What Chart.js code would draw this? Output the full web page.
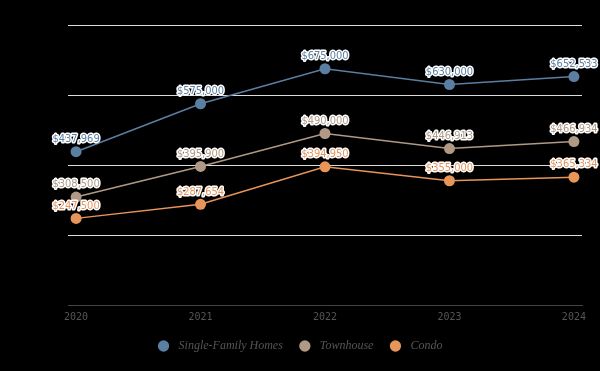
<!DOCTYPE html>
<html>
<head>
<meta charset="utf-8">
<script src="https://cdn.jsdelivr.net/npm/chart.js@4"></script>
<style>
  html, body { margin: 0; padding: 0; background: #000; }
  #wrap { width: 600px; height: 371px; }
</style>
</head>
<body>
<div id="wrap"><canvas id="priceChart"></canvas></div>
<script>
const years = ['2020', '2021', '2022', '2023', '2024'];
const singleFamily = [437969, 575000, 675000, 630000, 652533];
const townhouse = [308500, 395900, 490000, 446913, 466934];
const condo = [247500, 287654, 394950, 355000, 365334];

const colors = ['#5b7fa3', '#b09a86', '#e8955a'];

// value labels: coloured text with a white outline
const valueLabels = {
    id: 'valueLabels',
    afterDatasetsDraw(chart) {
        const ctx = chart.ctx;
        ctx.save();
        ctx.font = '11px "Liberation Sans Narrow", "DejaVu Sans Condensed", sans-serif';
        ctx.textAlign = 'center';
        ctx.textBaseline = 'bottom';
        ctx.lineJoin = 'round';
        chart.data.datasets.forEach((ds, i) => {
            chart.getDatasetMeta(i).data.forEach((pt, j) => {
                const txt = '$' + ds.data[j].y.toLocaleString('en-US');
                ctx.lineWidth = 3;
                ctx.strokeStyle = '#ffffff';
                ctx.strokeText(txt, pt.x, pt.y - 7);
                ctx.fillStyle = ds.borderColor;
                ctx.fillText(txt, pt.x, pt.y - 7);
            });
        });
        ctx.restore();
    }
};

function toPoints(arr) {
    return arr.map((v, i) => ({ x: i, y: v }));
}

const ctx = document.getElementById('priceChart').getContext('2d');
new Chart(ctx, {
    type: 'line',
    data: {
        datasets: [
            { label: 'Single-Family Homes', data: toPoints(singleFamily) },
            { label: 'Townhouse', data: toPoints(townhouse) },
            { label: 'Condo', data: toPoints(condo) }
        ].map((d, i) => Object.assign(d, {
            borderColor: colors[i],
            backgroundColor: colors[i],
            borderWidth: 1.5,
            pointRadius: 5.5,
            pointHoverRadius: 5.5,
            pointBorderWidth: 0,
            tension: 0
        }))
    },
    options: {
        responsive: true,
        maintainAspectRatio: false,
        animation: false,
        layout: { padding: { left: 0, right: 0, top: 25, bottom: 9 } },
        plugins: {
            tooltip: { enabled: false },
            legend: {
                position: 'bottom',
                labels: {
                    usePointStyle: true,
                    pointStyle: 'circle',
                    boxWidth: 12,
                    boxHeight: 8,
                    padding: 16,
                    color: '#555',
                    font: { family: '"Liberation Serif", serif', style: 'italic', size: 12 },
                    generateLabels(chart) {
                        const items = Chart.defaults.plugins.legend.labels.generateLabels(chart);
                        items.forEach(it => { it.text = ' ' + it.text; it.lineWidth = 0; });
                        return items;
                    }
                }
            }
        },
        scales: {
            x: {
                type: 'linear',
                min: -0.065,
                max: 4.065,
                afterBuildTicks(axis) {
                    axis.ticks = years.map((y, i) => ({ value: i }));
                },
                afterFit(axis) { axis.height += 3; },
                ticks: {
                    callback: v => years[v],
                    color: '#555',
                    font: { family: '"DejaVu Sans Mono", monospace', size: 10 },
                    padding: -2,
                    maxRotation: 0
                },
                grid: { display: false },
                border: { display: true, color: '#444', width: 1 }
            },
            y: {
                min: 0,
                max: 800000,
                afterFit(axis) { axis.width = 68; },
                ticks: { display: false, stepSize: 200000 },
                grid: {
                    color: ctx => ctx.tick.value === 0 ? 'rgba(0,0,0,0)' : '#dcdcdc',
                    drawTicks: false,
                    lineWidth: 1
                },
                border: { display: false }
            },
            yRight: {
                position: 'right',
                afterFit(axis) { axis.width = 18; },
                ticks: { display: false },
                grid: { display: false },
                border: { display: false }
            }
        }
    },
    plugins: [valueLabels]
});
</script>
</body>
</html>
